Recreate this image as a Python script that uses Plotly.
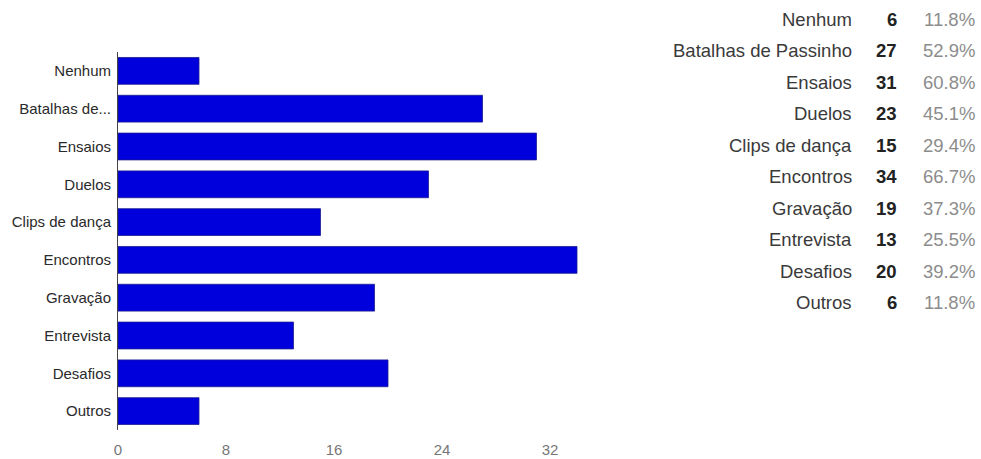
import plotly.graph_objects as go

# Survey answers (one row per option)
categories = ["Nenhum", "Batalhas de Passinho", "Ensaios", "Duelos", "Clips de dança",
              "Encontros", "Gravação", "Entrevista", "Desafios", "Outros"]
axis_labels = ["Nenhum", "Batalhas de...", "Ensaios", "Duelos", "Clips de dança",
               "Encontros", "Gravação", "Entrevista", "Desafios", "Outros"]
counts = [6, 27, 31, 23, 15, 34, 19, 13, 20, 6]
percents = ["11.8%", "52.9%", "60.8%", "45.1%", "29.4%",
            "66.7%", "37.3%", "25.5%", "39.2%", "11.8%"]
x_ticks = [0, 8, 16, 24, 32]

W, H = 981, 459
ML, MR, MT, MB = 118, W - 604, 52, 29
PW, PH = W - ML - MR, H - MT - MB
FONT = "Liberation Sans, Arial, sans-serif"


def px_x(x):
    """Pixel column -> paper x coordinate."""
    return (x - ML) / PW


def px_y(y):
    """Pixel row (from top) -> paper y coordinate."""
    return (H - MB - y) / PH


fig = go.Figure()
fig.add_trace(go.Bar(
    y=axis_labels,
    x=counts,
    orientation="h",
    width=0.71,
    marker=dict(color="#0000dc", line=dict(color="#1c1c92", width=0.8)),
    hoverinfo="x+y",
))

# Summary table to the right of the chart: label, count, percentage
row_top = 19
row_step = 31.5
TABLE_SIZE = 18.5
for i, (name, n, p) in enumerate(zip(categories, counts, percents)):
    yy = px_y(row_top + i * row_step)
    fig.add_annotation(x=px_x(854), y=yy, xref="paper", yref="paper", text=name,
                       showarrow=False, xanchor="right", yanchor="middle",
                       font=dict(family=FONT, size=TABLE_SIZE, color="#3a3a3a"))
    fig.add_annotation(x=px_x(899), y=yy, xref="paper", yref="paper", text=f"<b>{n}</b>",
                       showarrow=False, xanchor="right", yanchor="middle",
                       font=dict(family=FONT, size=TABLE_SIZE, color="#222222"))
    fig.add_annotation(x=px_x(977), y=yy, xref="paper", yref="paper", text=p,
                       showarrow=False, xanchor="right", yanchor="middle",
                       font=dict(family=FONT, size=TABLE_SIZE, color="#8c8c8c"))

fig.update_layout(
    width=W, height=H,
    margin=dict(l=ML, r=MR, t=MT, b=MB),
    paper_bgcolor="white", plot_bgcolor="white",
    showlegend=False,
    font=dict(family=FONT),
    xaxis=dict(range=[0, 36], tickvals=x_ticks, showgrid=False, zeroline=False,
               showline=False, ticks="", ticklabelstandoff=9, automargin=False,
               tickfont=dict(size=15, color="#777777"), fixedrange=True),
    yaxis=dict(autorange="reversed", showgrid=False, zeroline=False,
               showline=True, linecolor="#444444", linewidth=1, ticks="",
               ticklabelstandoff=3, automargin=False,
               tickfont=dict(size=15, color="#2a2a2a"), fixedrange=True),
)

fig.write_html("out.html")
